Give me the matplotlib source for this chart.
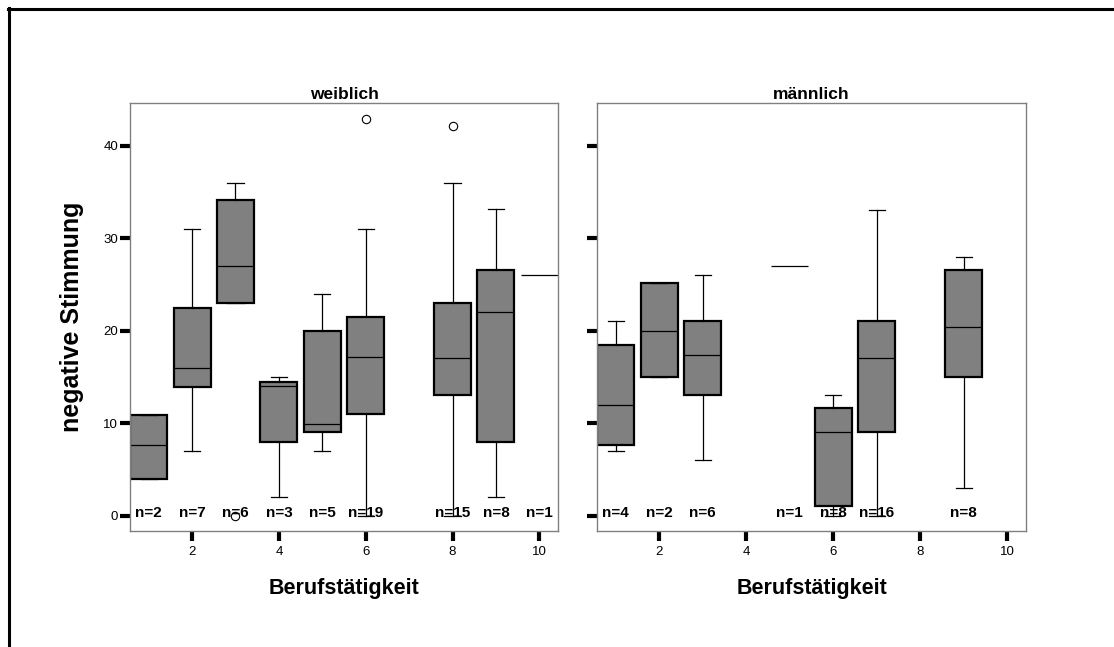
import matplotlib
matplotlib.use("Agg")
import matplotlib.pyplot as plt
from matplotlib.lines import Line2D

plt.rcParams['font.family'] = ['Liberation Sans', 'DejaVu Sans']

# ---------------- data ----------------
panels = ["weiblich", "männlich"]
x_ticks = [2, 4, 6, 8, 10]

# weiblich
w_pos = [1, 2, 3, 4, 5, 6, 8, 9]
w_whislo = [4.0, 7, 23, 2, 7, 0, 0, 2]
w_q1 = [4.0, 13.9, 23, 8, 9, 11, 13.1, 8]
w_med = [7.6, 16, 27, 14, 9.9, 17.1, 17, 22]
w_q3 = [10.9, 22.5, 34.1, 14.5, 20, 21.5, 23, 26.5]
w_whishi = [10.9, 31, 36, 15, 24, 31, 36, 33.1]
w_fliers = [[], [], [0], [], [], [42.9], [42.1], []]
w_single_pos = [10]
w_single_val = [26]
w_n_pos = [1, 2, 3, 4, 5, 6, 8, 9, 10]
w_n = [2, 7, 6, 3, 5, 19, 15, 8, 1]

# männlich
m_pos = [1, 2, 3, 6, 7, 9]
m_whislo = [7, 15, 6, 0, 0, 3]
m_q1 = [7.6, 15, 13, 1.1, 9, 15]
m_med = [12, 20, 17.4, 9, 17, 20.4]
m_q3 = [18.5, 25.1, 21, 11.6, 21, 26.5]
m_whishi = [21, 25.1, 26, 13.1, 33, 28]
m_fliers = [[], [], [], [], [], []]
m_single_pos = [5]
m_single_val = [27]
m_n_pos = [1, 2, 3, 5, 6, 7, 9]
m_n = [4, 2, 6, 1, 8, 16, 8]

y_ticks = [0, 10, 20, 30, 40]

# ---------------- figure ----------------
W, H = 1114, 647
fig = plt.figure(figsize=(W / 100, H / 100), dpi=100)
fig.patch.set_facecolor("white")

# outer frame (top and left lines)
fig.add_artist(Line2D([8 / W, 1.0], [1 - 9 / H, 1 - 9 / H], color="black", lw=2.2,
                      transform=fig.transFigure))
fig.add_artist(Line2D([9 / W, 9 / W], [1 - 8 / H, 0.0], color="black", lw=2.2,
                      transform=fig.transFigure))

ax_rects = [
    [130 / W, 1 - 531 / H, 428 / W, 428 / H],
    [597 / W, 1 - 531 / H, 429 / W, 428 / H],
]

data = [
    (w_pos, w_whislo, w_q1, w_med, w_q3, w_whishi, w_fliers, w_single_pos, w_single_val, w_n_pos, w_n),
    (m_pos, m_whislo, m_q1, m_med, m_q3, m_whishi, m_fliers, m_single_pos, m_single_val, m_n_pos, m_n),
]

box_w = 0.85
for i, (title, rect, d) in enumerate(zip(panels, ax_rects, data)):
    pos, wlo, q1, med, q3, whi, fl, spos, sval, npos, nn = d
    ax = fig.add_axes(rect)
    stats = []
    for k in range(len(pos)):
        stats.append(dict(med=med[k], q1=q1[k], q3=q3[k], whislo=wlo[k], whishi=whi[k],
                          fliers=fl[k]))
    ax.bxp(stats, positions=pos, widths=box_w, capwidths=0.37, patch_artist=True,
           showfliers=True,
           boxprops=dict(facecolor="#808080", edgecolor="black", linewidth=1.6),
           medianprops=dict(color="black", linewidth=0.9),
           whiskerprops=dict(color="black", linewidth=0.9),
           capprops=dict(color="black", linewidth=0.9),
           flierprops=dict(marker="o", markerfacecolor="white", markeredgecolor="black",
                           markersize=6, markeredgewidth=0.8, linestyle="none"),
           manage_ticks=False)
    for p, v in zip(spos, sval):
        ax.hlines(v, p - box_w / 2, p + box_w / 2, color="black", linewidth=0.9)
    for p, n in zip(npos, nn):
        ax.text(p, 0.3, f"n={n}", ha="center", va="center", fontsize=11,
                fontweight="bold", zorder=5)

    ax.set_xlim(0.57, 10.43)
    ax.set_ylim(-1.65, 44.6)
    ax.set_xticks(x_ticks)
    ax.set_xticklabels([str(t) for t in x_ticks], fontsize=9.5)
    ax.set_yticks(y_ticks)
    if i == 0:
        ax.set_yticklabels([str(t) for t in y_ticks], fontsize=9.5)
    else:
        ax.set_yticklabels([])
    ax.tick_params(axis="both", direction="out", length=7.5, width=3.0, color="black")
    ax.tick_params(axis="y", pad=1)
    ax.tick_params(axis="x", pad=3)
    for s in ax.spines.values():
        s.set_color("#808080")
        s.set_linewidth(1.0)
    ax.set_title(title, fontsize=12.5, fontweight="bold", pad=3)
    ax.set_xlabel("Berufstätigkeit", fontsize=15.5, fontweight="bold", labelpad=15)
    if i == 0:
        ax.set_ylabel("negative Stimmung", fontsize=18, fontweight="bold", labelpad=14)

fig.savefig("out.png", dpi=100)
